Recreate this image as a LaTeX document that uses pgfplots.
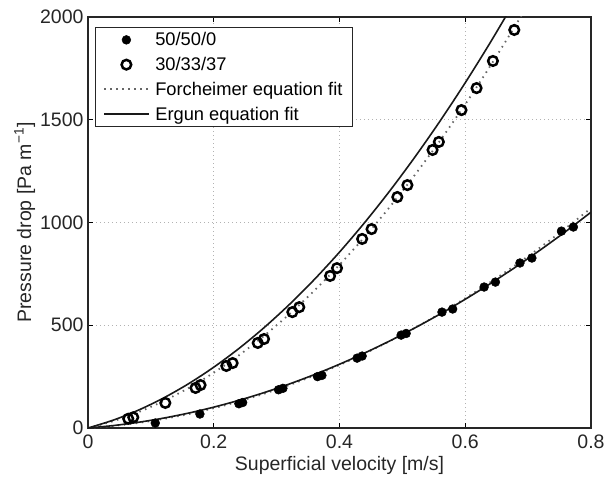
\documentclass[border=0pt]{standalone}
\usepackage{fontspec}
\setmainfont{Liberation Sans}
\usepackage{pgfplots}
\pgfplotsset{compat=1.18}
\pgfplotsset{
  mymarkleg/.style={legend image code/.code={\draw[##1, mark repeat=2, mark phase=2] plot coordinates {(0pt,0pt) (22pt,0pt) (44pt,0pt)};}},
  mylineleg/.style={legend image code/.code={\draw[##1] (0pt,0pt) -- (45pt,0pt);}},
}
\begin{document}
\begin{tikzpicture}
\useasboundingbox (-88pt,-51pt) rectangle (519pt,428pt);
\begin{axis}[
  scale only axis, width=503pt, height=411pt,
  xmin=0, xmax=0.8, ymin=0, ymax=2000,
  xtick={0,0.2,0.4,0.6,0.8}, ytick={0,500,1000,1500,2000},
  scaled ticks=false,
  /pgf/number format/assume math mode=true,
  /pgf/number format/set thousands separator={},
  tick label style={font=\fontsize{19.5}{22}\selectfont, color=black!85},
  xticklabel style={yshift=-3.5pt},
  yticklabel style={xshift=-1pt},
  label style={font=\fontsize{19.5}{22}\selectfont, color=black!85},
  xlabel style={yshift=-0.5pt},
  ylabel style={yshift=-2pt},
  tick align=inside, major tick length=5pt,
  tick style={black, line width=0.8pt},
  axis line style={black!85, line width=1.3pt},
  grid=major, grid style={dash pattern=on 1pt off 3pt, black!30, line width=0.8pt},
  xlabel={Superficial velocity [m/s]},
  ylabel={Pressure drop [Pa m\textsuperscript{−1}]},
  legend style={at={(rel axis cs:0,1)}, anchor=north west, xshift=7pt, yshift=-10pt,
    draw=black!85, line width=1pt, font=\fontsize{18.3}{21}\selectfont,
    inner xsep=8pt, inner ysep=3pt, row sep=6pt, column sep=3pt, cells={anchor=west}},
  legend cell align=left,
]
% 50/50/0 data
\addplot[only marks, mark=*, mark size=4.4pt, mark options={black, fill=black, line width=0.5pt}, mymarkleg]
coordinates {
(0.107,24) (0.178,68) (0.240,118) (0.246,124) (0.303,186) (0.310,193)
(0.365,250) (0.372,256) (0.428,340) (0.436,350) (0.498,452) (0.506,460)
(0.563,564) (0.580,579) (0.630,686) (0.648,710) (0.687,803) (0.706,827)
(0.753,958) (0.772,978)
};
\addlegendentry{50/50/0}
% 30/33/37 data
\addplot[only marks, mark=o, mark size=4.8pt, mark options={black, line width=2.5pt}, mymarkleg]
coordinates {
(0.064,45) (0.072,52) (0.123,122) (0.171,195) (0.179,209) (0.220,302) (0.230,316)
(0.270,414) (0.280,433) (0.325,564) (0.336,588) (0.385,740) (0.396,778)
(0.436,920) (0.451,968) (0.492,1124) (0.508,1182) (0.548,1353) (0.558,1392)
(0.594,1547) (0.618,1654) (0.644,1786) (0.678,1937)
};
\addlegendentry{30/33/37}
% Forchheimer fits
\addplot[black!60, line width=1.8pt, dash pattern=on 1.5pt off 4.5pt, smooth, mylineleg]
coordinates {
(0,0) (0.04,33.3) (0.08,76.9) (0.12,130.7) (0.16,194.7) (0.20,269.0) (0.24,353.6)
(0.28,448.4) (0.32,553.4) (0.36,668.7) (0.40,794.2) (0.44,929.9) (0.48,1075.9)
(0.52,1232.2) (0.56,1398.6) (0.60,1575.4) (0.64,1762.3) (0.68,1959.6) (0.70,2062)
};
\addlegendentry{Forcheimer equation fit}
\addplot[black!60, line width=1.8pt, dash pattern=on 1.5pt off 4.5pt, smooth, forget plot]
coordinates {
(0,0) (0.04,10.2) (0.08,24.9) (0.12,44.1) (0.16,68.0) (0.20,96.4) (0.24,129.4)
(0.28,166.9) (0.32,208.9) (0.36,255.6) (0.40,306.8) (0.44,362.6) (0.48,422.9)
(0.52,487.7) (0.56,557.2) (0.60,631.2) (0.64,709.8) (0.68,792.9) (0.72,880.5)
(0.76,972.8) (0.80,1069.6)
};
% Ergun fits
\addplot[black!90, line width=1.6pt, smooth, mylineleg]
coordinates {
(0,0) (0.04,38.0) (0.08,86.6) (0.12,145.8) (0.16,215.5) (0.20,295.9) (0.24,386.8)
(0.28,488.2) (0.32,600.2) (0.36,722.7) (0.40,855.9) (0.44,999.7) (0.48,1153.9)
(0.52,1318.8) (0.56,1494.1) (0.60,1680.1) (0.64,1876.7) (0.68,2083.7)
};
\addlegendentry{Ergun equation fit}
\addplot[black!90, line width=1.6pt, smooth, forget plot]
coordinates {
(0,0) (0.04,11.7) (0.08,27.7) (0.12,48.0) (0.16,72.6) (0.20,101.5) (0.24,134.7)
(0.28,172.1) (0.32,213.9) (0.36,259.9) (0.40,310.3) (0.44,365.0) (0.48,423.9)
(0.52,487.2) (0.56,554.7) (0.60,626.5) (0.64,702.7) (0.68,783.0) (0.72,867.8)
(0.76,956.7) (0.80,1050.1)
};
\end{axis}
\end{tikzpicture}
\end{document}
